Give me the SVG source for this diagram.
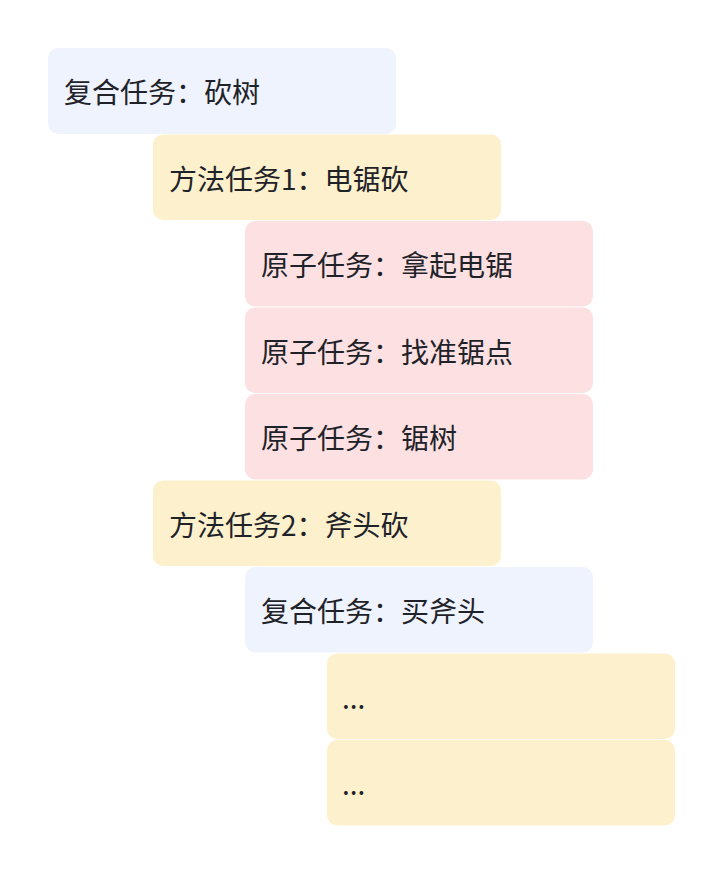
<svg xmlns="http://www.w3.org/2000/svg" width="724" height="874" viewBox="0 0 724 874">
<style>
  .box { stroke: none; }
  .blue { fill: #eef3fd; }
  .yellow { fill: #fdf0cc; }
  .pink { fill: #fde1e2; }
  .t { font-family: "Noto Sans CJK SC", "Noto Sans", sans-serif; font-size: 28px; fill: #1f2329; }
</style>
<rect width="724" height="874" fill="#ffffff"/>
<g id="connectors"/>
<g id="n1"><rect class="box blue" x="48" y="48" width="348" height="86" rx="10"/><text class="t" x="64" y="103">复合任务：砍树</text></g>
<g id="n2"><rect class="box yellow" x="153" y="134.5" width="348" height="85.5" rx="10"/><text class="t" x="169" y="189.5">方法任务1：电锯砍</text></g>
<g id="n3"><rect class="box pink" x="245" y="221" width="348" height="85.5" rx="10"/><text class="t" x="261" y="276">原子任务：拿起电锯</text></g>
<g id="n4"><rect class="box pink" x="245" y="307.5" width="348" height="85.5" rx="10"/><text class="t" x="261" y="362.5">原子任务：找准锯点</text></g>
<g id="n5"><rect class="box pink" x="245" y="394" width="348" height="85.5" rx="10"/><text class="t" x="261" y="449">原子任务：锯树</text></g>
<g id="n6"><rect class="box yellow" x="153" y="480.5" width="348" height="85.5" rx="10"/><text class="t" x="169" y="535.5">方法任务2：斧头砍</text></g>
<g id="n7"><rect class="box blue" x="245" y="567" width="348" height="85.5" rx="10"/><text class="t" x="261" y="622">复合任务：买斧头</text></g>
<g id="n8"><rect class="box yellow" x="327" y="653.5" width="348" height="85.5" rx="10"/><text class="t" x="342" y="708.5">...</text></g>
<g id="n9"><rect class="box yellow" x="327" y="740" width="348" height="85.5" rx="10"/><text class="t" x="342" y="795">...</text></g>
</svg>
